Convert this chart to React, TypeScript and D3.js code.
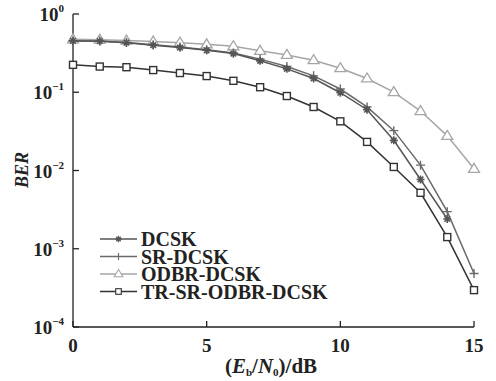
import * as d3 from "d3";

const snr = [0, 1, 2, 3, 4, 5, 6, 7, 8, 9, 10, 11, 12, 13, 14, 15];

const dcsk = [0.453, 0.45, 0.43, 0.4, 0.372, 0.344, 0.312, 0.252, 0.199, 0.15, 0.0986, 0.0598, 0.0243, 0.00768, 0.0024];
const srDcsk = [0.455, 0.452, 0.433, 0.405, 0.378, 0.35, 0.318, 0.265, 0.213, 0.162, 0.11, 0.065, 0.0323, 0.0117, 0.00298, 0.000483];
const odbrDcsk = [0.475, 0.47, 0.457, 0.444, 0.43, 0.41, 0.387, 0.338, 0.3, 0.257, 0.203, 0.15, 0.1005, 0.0575, 0.0277, 0.0105];
const trSrOdbr = [0.224, 0.213, 0.209, 0.192, 0.176, 0.161, 0.14, 0.116, 0.0895, 0.0648, 0.0425, 0.0232, 0.0111, 0.00519, 0.00141, 0.000296];

const xTicks = [0, 5, 10, 15];
const yExponents = [0, -1, -2, -3, -4];

const legendNames = ["DCSK", "SR-DCSK", "ODBR-DCSK", "TR-SR-ODBR-DCSK"];

const W = 496;
const H = 381;
const left = 73;
const right = 474;
const top = 14;
const bottom = 327;
const FONT = "'Liberation Serif', 'Times New Roman', serif";

type Shape = "star" | "plus" | "tri" | "square";

function Marker({ x, y, shape, color }: { x: number; y: number; shape: Shape; color: string }) {
  if (shape === "square") {
    return <rect x={x - 3.5} y={y - 3.5} width={7} height={7} fill="white" stroke={color} strokeWidth={1.4} />;
  }
  if (shape === "tri") {
    return (
      <path
        d={`M${x},${y - 5.5} L${x + 5.5},${y + 3.5} L${x - 5.5},${y + 3.5} Z`}
        fill="white"
        stroke={color}
        strokeWidth={1.3}
      />
    );
  }
  if (shape === "plus") {
    return <path d={`M${x - 4.5},${y} H${x + 4.5} M${x},${y - 4.5} V${y + 4.5}`} stroke={color} strokeWidth={1.4} />;
  }
  const r = 4;
  return (
    <path
      d={`M${x - r},${y} H${x + r} M${x},${y - r} V${y + r} M${x - r * 0.7},${y - r * 0.7} L${x + r * 0.7},${y + r * 0.7} M${x - r * 0.7},${y + r * 0.7} L${x + r * 0.7},${y - r * 0.7}`}
      stroke={color}
      strokeWidth={1.6}
    />
  );
}

export default function App() {
  const x = d3.scaleLinear().domain([0, 15]).range([left, right]);
  const y = d3.scaleLog().domain([1e-4, 1]).range([bottom, top]);

  const series: { name: string; values: number[]; color: string; shape: Shape }[] = [
    { name: legendNames[2], values: odbrDcsk, color: "#a6a6a6", shape: "tri" },
    { name: legendNames[1], values: srDcsk, color: "#6a6a6a", shape: "plus" },
    { name: legendNames[0], values: dcsk, color: "#555555", shape: "star" },
    { name: legendNames[3], values: trSrOdbr, color: "#333333", shape: "square" },
  ];

  const line = d3
    .line<number>()
    .x((_, i) => x(snr[i]))
    .y((v) => y(v));

  const legendOrder = [2, 1, 0, 3];

  return (
    <div style={{ position: "absolute", left: 0, top: 0 }}>
      <svg width={W} height={H} style={{ display: "block", background: "white" }}>
        {/* axes */}
        <g stroke="#222" strokeWidth={1.3} fill="none">
          <line x1={left} x2={left} y1={top} y2={bottom} />
          <line x1={left} x2={right} y1={bottom} y2={bottom} />
          {yExponents.map((e) => (
            <line key={e} x1={left} x2={left + 6} y1={y(Math.pow(10, e))} y2={y(Math.pow(10, e))} />
          ))}
          {xTicks.map((t) => (
            <line key={t} x1={x(t)} x2={x(t)} y1={bottom} y2={bottom - 6} />
          ))}
        </g>

        {/* y tick labels */}
        {yExponents.map((e) => (
          <text
            key={e}
            x={left - 9}
            y={y(Math.pow(10, e)) + 7}
            textAnchor="end"
            fontFamily={FONT}
            fontWeight="bold"
            fontSize={19}
            fill="#222"
          >
            10
            <tspan fontSize={11} dy={-9}>
              {e === 0 ? "0" : "\u2212" + Math.abs(e)}
            </tspan>
          </text>
        ))}

        {/* x tick labels */}
        {xTicks.map((t) => (
          <text
            key={t}
            x={x(t)}
            y={bottom + 25}
            textAnchor="middle"
            fontFamily={FONT}
            fontWeight="bold"
            fontSize={19}
            fill="#222"
          >
            {t}
          </text>
        ))}

        {/* axis titles */}
        <text x={271} y={373} textAnchor="middle" fontFamily={FONT} fontWeight="bold" fontSize={21} fill="#222">
          (<tspan fontStyle="italic">E</tspan>
          <tspan fontSize={11} dy={3}>b</tspan>
          <tspan dy={-3}>/</tspan>
          <tspan fontStyle="italic">N</tspan>
          <tspan fontSize={11} dy={3}>0</tspan>
          <tspan dy={-3}>)/dB</tspan>
        </text>
        <text
          transform="translate(28,170) rotate(-90)"
          textAnchor="middle"
          fontFamily={FONT}
          fontWeight="bold"
          fontStyle="italic"
          fontSize={18}
          fill="#222"
        >
          BER
        </text>

        {/* series */}
        {series.map((s) => (
          <g key={s.name}>
            <path d={line(s.values) ?? ""} fill="none" stroke={s.color} strokeWidth={1.5} />
            {s.values.map((v, i) => (
              <Marker key={i} x={x(snr[i])} y={y(v)} shape={s.shape} color={s.color} />
            ))}
          </g>
        ))}

        {/* legend */}
        {legendOrder.map((si, row) => {
          const s = series[si];
          const ly = 239 + row * 17.5;
          return (
            <g key={s.name}>
              <line x1={100} x2={137} y1={ly} y2={ly} stroke={s.color} strokeWidth={1.5} />
              <g transform={`translate(118.5,${ly}) scale(0.8)`}>
                <Marker x={0} y={0} shape={s.shape} color={s.color} />
              </g>
              <text x={141} y={ly + 7} fontFamily={FONT} fontWeight="bold" fontSize={20} fill="#222">
                {s.name}
              </text>
            </g>
          );
        })}
      </svg>
    </div>
  );
}
